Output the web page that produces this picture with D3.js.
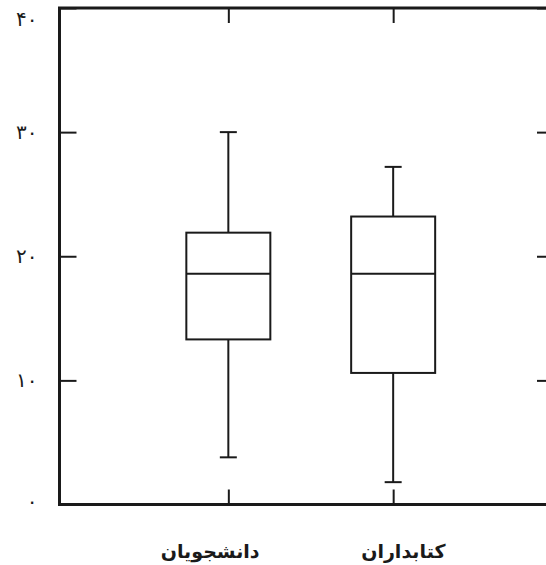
<!DOCTYPE html>
<html>
<head>
<meta charset="utf-8">
<script src="https://cdn.jsdelivr.net/npm/d3@7/dist/d3.min.js"></script>
<style>
  html, body { margin: 0; padding: 0; background: #fff; }
  svg { display: block; }
</style>
</head>
<body>
<svg id="chart" width="546" height="565"></svg>
<script>
// ---- data ----
const categories = ["دانشجویان", "کتابداران"];
const whiskerLow  = [3.8, 1.8];
const q1          = [13.3, 10.6];
const median      = [18.6, 18.6];
const q3          = [21.9, 23.2];
const whiskerHigh = [30, 27.2];
const yTicks = [0, 10, 20, 30, 40];

// ---- layout ----
(function () {
const svg = d3.select("#chart");
const mLeft = 59.5, mRight = 554, mTop = 8, mBottom = 504.5;
const ink = "#1a1a1a";

const x = d3.scalePoint().domain(categories).range([mLeft + 4, mRight + 4]).padding(1);
const xLabel = d3.scalePoint().domain(categories).range([mLeft, mRight]).padding(0.78);
const y = d3.scaleLinear().domain([0, 40]).range([mBottom, mTop]);

const toPersian = s => String(s).replace(/[0-9]/g, d => "۰۱۲۳۴۵۶۷۸۹"[+d]);

// frame
svg.append("rect")
  .attr("x", mLeft).attr("y", mTop)
  .attr("width", mRight - mLeft).attr("height", mBottom - mTop)
  .attr("fill", "none").attr("stroke", ink).attr("stroke-width", 3);

// left axis (ticks inward)
const gl = svg.append("g").attr("transform", `translate(${mLeft},0)`)
  .call(d3.axisLeft(y).tickValues(yTicks).tickSize(-17).tickPadding(22).tickFormat(toPersian));
gl.select(".domain").remove();
gl.selectAll(".tick line").attr("stroke", ink).attr("stroke-width", 2);
gl.selectAll(".tick text").attr("font-family", "DejaVu Sans, sans-serif")
  .attr("font-size", 20).attr("fill", ink)
  .attr("dy", d => d === 40 ? "0.85em" : (d === 0 ? "0.15em" : "0.32em"));

// right axis (ticks inward)
const gr = svg.append("g").attr("transform", `translate(${mRight},0)`)
  .call(d3.axisRight(y).tickValues(yTicks).tickSize(-17).tickFormat(""));
gr.select(".domain").remove();
gr.selectAll(".tick line").attr("stroke", ink).attr("stroke-width", 2);

// top and bottom axes (ticks inward)
const gt = svg.append("g").attr("transform", `translate(0,${mTop})`)
  .call(d3.axisTop(x).tickSize(-15).tickFormat(""));
gt.select(".domain").remove();
gt.selectAll(".tick line").attr("stroke", ink).attr("stroke-width", 2);

const gb = svg.append("g").attr("transform", `translate(0,${mBottom})`)
  .call(d3.axisBottom(x).tickSize(-15).tickFormat(""));
gb.select(".domain").remove();
gb.selectAll(".tick line").attr("stroke", ink).attr("stroke-width", 2);

// category labels
svg.append("g").selectAll("text").data(categories).join("text")
  .attr("x", d => xLabel(d)).attr("y", 558)
  .attr("text-anchor", "middle")
  .attr("direction", "rtl")
  .attr("font-family", "DejaVu Sans, sans-serif")
  .attr("font-weight", "bold").attr("font-size", 19)
  .attr("fill", ink)
  .text(d => d);

// boxes
const boxW = 84, capW = 17;
const boxes = categories.map((c, i) => ({
  c, lo: whiskerLow[i], q1: q1[i], med: median[i], q3: q3[i], hi: whiskerHigh[i]
}));
const g = svg.append("g").attr("stroke", ink).attr("stroke-width", 2).attr("fill", "none");
const bg = g.selectAll("g").data(boxes).join("g");

// whiskers
bg.append("line").attr("x1", d => x(d.c)).attr("x2", d => x(d.c))
  .attr("y1", d => y(d.hi)).attr("y2", d => y(d.q3));
bg.append("line").attr("x1", d => x(d.c)).attr("x2", d => x(d.c))
  .attr("y1", d => y(d.q1)).attr("y2", d => y(d.lo));
// caps
bg.append("line").attr("x1", d => x(d.c) - capW / 2).attr("x2", d => x(d.c) + capW / 2)
  .attr("y1", d => y(d.hi)).attr("y2", d => y(d.hi));
bg.append("line").attr("x1", d => x(d.c) - capW / 2).attr("x2", d => x(d.c) + capW / 2)
  .attr("y1", d => y(d.lo)).attr("y2", d => y(d.lo));
// box
bg.append("rect").attr("x", d => x(d.c) - boxW / 2).attr("width", boxW)
  .attr("y", d => y(d.q3)).attr("height", d => y(d.q1) - y(d.q3));
// median
bg.append("line").attr("x1", d => x(d.c) - boxW / 2).attr("x2", d => x(d.c) + boxW / 2)
  .attr("y1", d => y(d.med)).attr("y2", d => y(d.med));
})();
</script>
</body>
</html>
